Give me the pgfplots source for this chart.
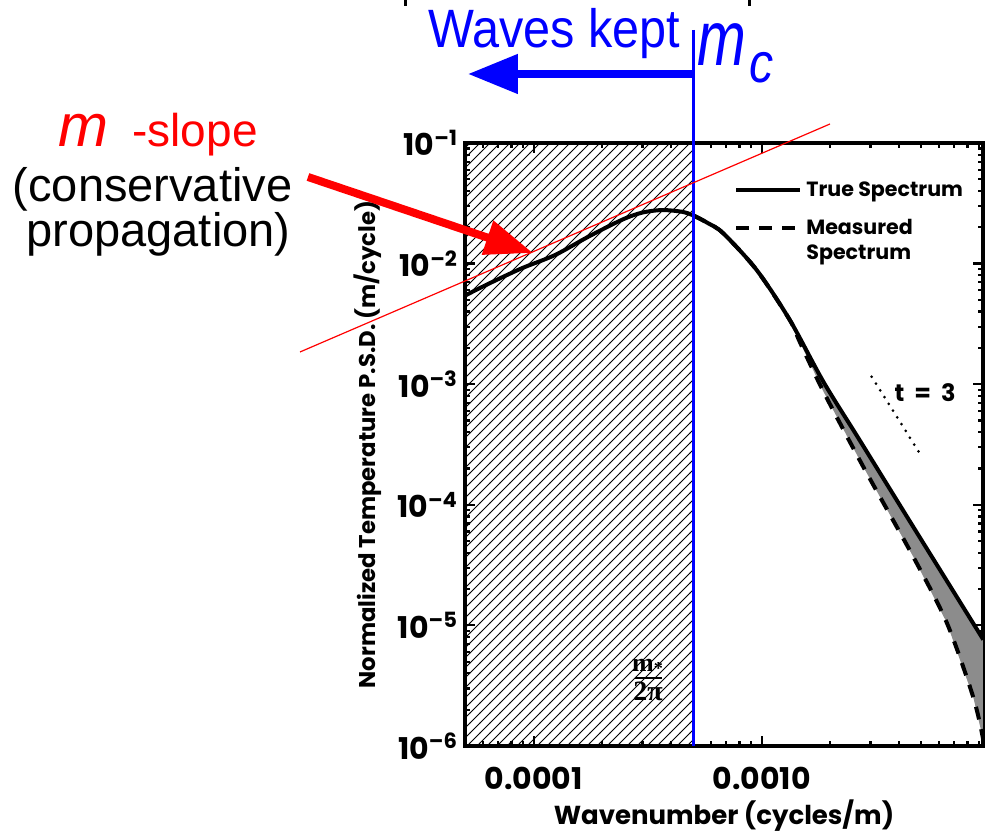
\documentclass[border=0pt]{standalone}
\usepackage{graphicx}
\usepackage{pgfplots}
\pgfplotsset{compat=1.18}
\usetikzlibrary{patterns,arrows.meta}
\usepackage{fontspec}
\setmainfont{Liberation Sans}
\newfontfamily\idl{Poppins}
\newfontfamily\serif{Liberation Serif}
\newcommand{\E}[1]{10\textsuperscript{\textendash#1}}
\newcommand{\idlfont}[1]{\idl\bfseries\fontsize{#1}{#1}\selectfont}
\pgfdeclarepatternformonly{widehatch}{\pgfqpoint{-1pt}{-1pt}}{\pgfqpoint{6pt}{6pt}}{\pgfqpoint{5pt}{5pt}}%
{\pgfsetlinewidth{0.45pt}\pgfpathmoveto{\pgfqpoint{0pt}{0pt}}\pgfpathlineto{\pgfqpoint{5.1pt}{5.1pt}}\pgfusepath{stroke}}
\pgfplotsset{
  shortline/.style={legend image code/.code={\draw[##1] (0pt,0pt) -- (24pt,0pt); \path (0pt,0pt) -- (32pt,0pt);}},
}

\begin{document}
\begin{tikzpicture}
\begin{axis}[
  at={(0,0)}, anchor=south west,
  scale only axis, width=259pt, height=301.5pt,
  xmode=log, ymode=log,
  xmin=5e-5, xmax=9.35e-3, ymin=1e-6, ymax=1e-1,
  xtick={1e-4,1e-3}, xticklabels={0.0001,0.0010},
  minor xtick={6e-5,7e-5,8e-5,9e-5,2e-4,3e-4,4e-4,5e-4,6e-4,7e-4,8e-4,9e-4,
    2e-3,3e-3,4e-3,5e-3,6e-3,7e-3,8e-3,9e-3},
  ytick={1e-6,1e-5,1e-4,1e-3,1e-2,1e-1},
  yticklabels={\E6,\E5,\E4,\E3,\E2,\E1},
  minor ytick={2e-6,3e-6,4e-6,5e-6,6e-6,7e-6,8e-6,9e-6,
    2e-5,3e-5,4e-5,5e-5,6e-5,7e-5,8e-5,9e-5,
    2e-4,3e-4,4e-4,5e-4,6e-4,7e-4,8e-4,9e-4,
    2e-3,3e-3,4e-3,5e-3,6e-3,7e-3,8e-3,9e-3,
    2e-2,3e-2,4e-2,5e-2,6e-2,7e-2,8e-2,9e-2},
  tick align=inside,
  major tick length=5pt, minor tick length=2.6pt,
  tick style={black, line width=1.1pt},
  axis line style={line width=1.8pt},
  tick label style={font=\idlfont{15}},
  xticklabel style={yshift=-7pt},
  xlabel={Wavenumber (cycles/m)},
  ylabel={Normalized Temperature P.S.D. (m/cycle)},
  xlabel style={at={(axis description cs:0.5,-0.116)}, anchor=center, font=\idlfont{13}},
  ylabel style={at={(axis description cs:-0.1873,0.5)}, anchor=center, font=\idlfont{11.4}},
  legend style={at={(0.5077,0.9502)}, anchor=north west, draw=none, fill=none,
    font=\idlfont{10.3}, row sep=6pt},
  legend cell align=left,
  shortline,
]
% hatched band below m*/2pi
\addplot[draw=none, forget plot, pattern=widehatch]
  coordinates {(5e-5,1e-6) (5e-4,1e-6) (5e-4,1e-1) (5e-5,1e-1)};

% shaded gap between true and measured spectra
\addplot[draw=none, fill=black!45, forget plot] coordinates {
  (1.33e-3,3.40e-3) (1.866e-3,1.047e-3) (2.612e-3,3.76e-4) (3.365e-3,1.734e-4)
  (4.62e-3,6.58e-5) (6.49e-3,2.34e-5) (9.38e-3,7.62e-6)
  (9.38e-3,1.12e-6) (8.49e-3,2.51e-6) (6.49e-3,1.05e-5) (4.62e-3,3.72e-5)
  (2.79e-3,2.07e-4) (1.866e-3,8.71e-4) (1.472e-3,2.23e-3)};

\addplot[black, line width=2pt, smooth] coordinates {
  (5.0e-5,5.43e-3) (6.32e-5,6.78e-3) (8.87e-5,9.14e-3) (1.242e-4,1.178e-2)
  (1.738e-4,1.671e-2) (2.432e-4,2.301e-2) (2.979e-4,2.642e-2) (3.648e-4,2.780e-2)
  (4.457e-4,2.692e-2) (5.01e-4,2.512e-2) (5.83e-4,2.16e-2) (6.79e-4,1.782e-2)
  (9.51e-4,8.85e-3) (1.33e-3,3.40e-3) (1.866e-3,1.047e-3) (2.612e-3,3.76e-4)
  (3.365e-3,1.734e-4) (4.62e-3,6.58e-5) (6.49e-3,2.34e-5) (9.38e-3,7.62e-6)};
\addlegendentry{True Spectrum}
\addplot[black, line width=2pt, dash pattern=on 6.5pt off 5pt, smooth] coordinates {
  (5.01e-4,2.512e-2) (5.83e-4,2.16e-2) (6.79e-4,1.782e-2) (9.51e-4,8.85e-3)
  (1.33e-3,3.40e-3) (1.472e-3,2.23e-3) (1.866e-3,8.71e-4) (2.79e-3,2.07e-4)
  (4.62e-3,3.72e-5) (6.49e-3,1.05e-5) (8.49e-3,2.51e-6) (9.38e-3,1.12e-6)};
\addlegendentry{Measured}

\addplot[black, line width=1.3pt, dash pattern=on 3pt off 2pt, forget plot]
  coordinates {(5e-4,1e-6) (5e-4,2.17e-2)};
\addplot[black, line width=1.5pt, line cap=round, dash pattern=on 0pt off 4pt, forget plot]
  coordinates {(3.04e-3,1.153e-3) (5.04e-3,2.51e-4)};

\node[font=\idlfont{12}] at (axis cs:5.21e-3,8.45e-4) {t\hspace{5pt}=\hspace{5pt}3};
\node[anchor=base west, inner sep=0pt, font=\idlfont{10.3}] at (axis description cs:0.6583,0.8068) {Spectrum};
\end{axis}

\begin{scope}[x=0.5pt, y=-0.5pt, shift={(-232.5pt,373pt)}]
  \node[inner sep=0pt, font=\serif\bfseries\fontsize{13}{13}\selectfont] at (648,667) {m\textsubscript{*}};
  \draw[black, line width=0.9pt] (635,678) -- (662,678);
  \node[inner sep=0pt, font=\serif\bfseries\fontsize{14}{14}\selectfont] at (648,691) {2π};
  \draw[blue, line width=1.1pt] (693.5,30) -- (693.5,746);
  \draw[blue, line width=4pt, -{Triangle[length=25pt,width=19pt]}] (693.5,74) -- (468,74);
  \node[blue, anchor=base west, inner sep=0pt, font=\fontsize{27}{27}\selectfont] at (428,48)
    {\scalebox{0.9}[1]{Waves kept}};
  \node[blue, anchor=base west, inner sep=0pt, font=\fontsize{39}{39}\selectfont\itshape] at (697,66)
    {\scalebox{0.75}[1]{m}};
  \node[blue, anchor=base west, inner sep=0pt, font=\fontsize{28}{28}\selectfont\itshape] at (749,83)
    {\scalebox{0.86}[1]{c}};

  \draw[red, line width=0.6pt] (300,352) -- (830,124);
  \draw[red, line width=4pt, -{Triangle[length=24pt,width=17pt]}] (308,177) -- (533,253);
  \node[red, anchor=base west, inner sep=0pt, font=\fontsize{30}{30}\selectfont\itshape] at (58,146.7) {m};
  \node[red, anchor=base west, inner sep=0pt, font=\fontsize{23}{23}\selectfont] at (132,146.7) {-slope};
  \node[anchor=base, inner sep=0pt, font=\fontsize{23.5}{23.5}\selectfont] at (152.5,201.7) {(conservative};
  \node[anchor=base, inner sep=0pt, font=\fontsize{23.5}{23.5}\selectfont] at (158.5,246.7) {propagation)};

  \fill (404,0) rectangle (407,6);
  \fill (748,0) rectangle (751,6);
  \pgfresetboundingbox
  \path[use as bounding box] (0,0) rectangle (986,833);
\end{scope}
\end{tikzpicture}
\end{document}
